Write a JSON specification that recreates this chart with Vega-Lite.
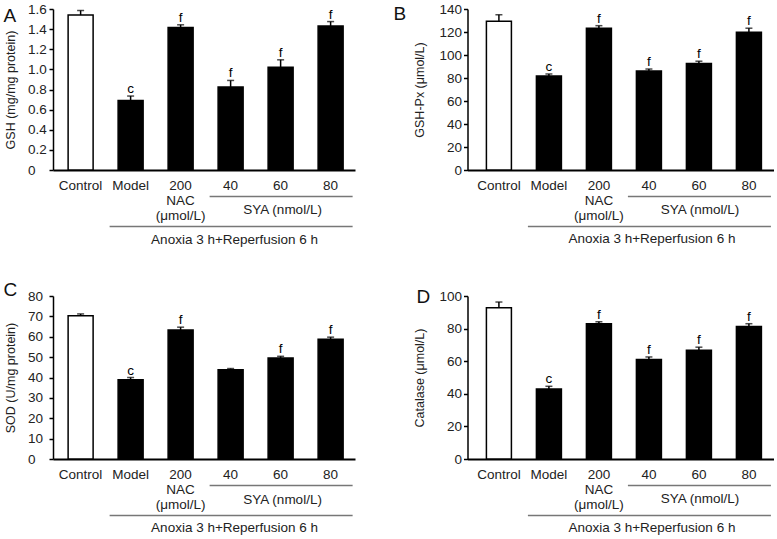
{
  "$schema": "https://vega.github.io/schema/vega-lite/v6.json",
  "padding": {"left": 3, "top": -4, "right": 3, "bottom": 0},
  "datasets": {
    "bars": [
      {"panel": "A", "group": "Control", "mean": 1.54, "upper": 1.585, "sig": ""},
      {"panel": "A", "group": "Model", "mean": 0.69, "upper": 0.735, "sig": "c"},
      {"panel": "A", "group": "200", "mean": 1.415, "upper": 1.443, "sig": "f"},
      {"panel": "A", "group": "40", "mean": 0.825, "upper": 0.89, "sig": "f"},
      {"panel": "A", "group": "60", "mean": 1.02, "upper": 1.095, "sig": "f"},
      {"panel": "A", "group": "80", "mean": 1.43, "upper": 1.475, "sig": "f"},
      {"panel": "B", "group": "Control", "mean": 129.3, "upper": 135, "sig": ""},
      {"panel": "B", "group": "Model", "mean": 81.7, "upper": 83.5, "sig": "c"},
      {"panel": "B", "group": "200", "mean": 123.3, "upper": 125.5, "sig": "f"},
      {"panel": "B", "group": "40", "mean": 86.1, "upper": 87.8, "sig": "f"},
      {"panel": "B", "group": "60", "mean": 92.6, "upper": 94.6, "sig": "f"},
      {"panel": "B", "group": "80", "mean": 119.8, "upper": 123.3, "sig": "f"},
      {"panel": "C", "group": "Control", "mean": 70.3, "upper": 71.2, "sig": ""},
      {"panel": "C", "group": "Model", "mean": 38.9, "upper": 40.0, "sig": "c"},
      {"panel": "C", "group": "200", "mean": 63.3, "upper": 64.7, "sig": "f"},
      {"panel": "C", "group": "40", "mean": 43.8, "upper": 44.4, "sig": ""},
      {"panel": "C", "group": "60", "mean": 49.6, "upper": 50.4, "sig": "f"},
      {"panel": "C", "group": "80", "mean": 58.8, "upper": 59.8, "sig": "f"},
      {"panel": "D", "group": "Control", "mean": 92.8, "upper": 96.3, "sig": ""},
      {"panel": "D", "group": "Model", "mean": 42.9, "upper": 44.6, "sig": "c"},
      {"panel": "D", "group": "200", "mean": 83.0, "upper": 84.2, "sig": "f"},
      {"panel": "D", "group": "40", "mean": 61.0, "upper": 62.6, "sig": "f"},
      {"panel": "D", "group": "60", "mean": 66.7, "upper": 68.6, "sig": "f"},
      {"panel": "D", "group": "80", "mean": 81.3, "upper": 83.0, "sig": "f"}
    ]
  },
  "columns": 2,
  "spacing": {"row": 126, "column": 112.5},
  "bounds": "flush",
  "align": "each",
  "config": {
    "view": {"stroke": null},
    "font": "Liberation Sans",
    "axis": {"domainColor": "black", "tickColor": "black", "labelColor": "#222", "titleColor": "#222", "labelFontSize": 13.5, "titleFontSize": 12.5, "titleFontWeight": "normal", "grid": false, "labelOverlap": false},
    "axisX": {"ticks": false, "domainWidth": 2, "labelPadding": 8.5, "labelAngle": 0, "labelLineHeight": 15},
    "axisY": {"tickSize": 4, "domainWidth": 1.5, "tickWidth": 1.5, "titleFontSize": 12.5, "labelOverlap": false, "tickCount": 20},
    "title": {"anchor": "start", "frame": "group", "fontSize": 19, "fontWeight": "normal", "baseline": "alphabetic", "offset": 0, "color": "#111"},
    "text": {"fontSize": 13.5, "color": "#222"}
  },
  "concat": [
    {
      "width": 302, "height": 161,
      "title": {"text": "A", "dx": -49.5, "dy": 33.75},
      "layer": [
        {
          "data": {"name": "bars"},
          "transform": [{"filter": "datum.panel == 'A'"}],
          "encoding": {
            "x": {"field": "group", "type": "nominal", "title": null,
              "scale": {"domain": ["Control", "Model", "200", "40", "60", "80"], "paddingInner": 0.5, "paddingOuter": 0.27, "align": 0.56},
              "axis": {"labelExpr": "datum.value == '200' ? ['200', 'NAC', '(μmol/L)'] : datum.value"}}
          },
          "layer": [
            {"mark": {"type": "bar", "stroke": "black", "strokeWidth": 1.5},
             "encoding": {
               "y": {"field": "mean", "type": "quantitative", "scale": {"domain": [0, 1.6], "nice": false},
                 "axis": {"title": "GSH (mg/mg protein)", "values": [0, 0.2, 0.4, 0.6, 0.8, 1.0, 1.2, 1.4, 1.6], "tickCount": 20, "labelOverlap": false, "labelExpr": "datum.value == 0 ? '0' : format(datum.value, '.1f')", "labelAlign": "left", "labelPadding": 21.5, "titlePadding": 10}},
               "fill": {"condition": {"test": "datum.group == 'Control'", "value": "white"}, "value": "black"}}},
            {"mark": {"type": "rule", "strokeWidth": 1.5, "color": "black"},
             "encoding": {"y": {"field": "mean", "type": "quantitative"}, "y2": {"field": "upper"}}},
            {"mark": {"type": "tick", "thickness": 1.5, "size": 7, "color": "black"},
             "encoding": {"y": {"field": "upper", "type": "quantitative"}}},
            {"mark": {"type": "text", "baseline": "alphabetic", "dy": -3, "color": "black"},
             "encoding": {"y": {"field": "upper", "type": "quantitative"}, "text": {"field": "sig"}}}
          ]
        },
        {"data": {"values": [{}]}, "mark": {"type": "rule", "color": "#777", "strokeWidth": 1.5, "xOffset": -21, "x2Offset": 22},
         "encoding": {"x": {"datum": "40", "type": "nominal"}, "x2": {"datum": "80"}, "y": {"datum": -0.263, "type": "quantitative"}}},
        {"data": {"values": [{}]}, "mark": {"type": "rule", "color": "#777", "strokeWidth": 1.5, "xOffset": -21, "x2Offset": 22},
         "encoding": {"x": {"datum": "Model", "type": "nominal"}, "x2": {"datum": "80"}, "y": {"datum": -0.561, "type": "quantitative"}}},
        {"data": {"values": [{}]}, "mark": {"type": "text", "baseline": "middle", "dx": 2},
         "encoding": {"x": {"datum": "60", "type": "nominal"}, "y": {"datum": -0.402, "type": "quantitative"}, "text": {"value": "SYA (nmol/L)"}}},
        {"data": {"values": [{}]}, "mark": {"type": "text", "baseline": "middle", "dx": 4},
         "encoding": {"x": {"datum": "40", "type": "nominal"}, "y": {"datum": -0.691, "type": "quantitative"}, "text": {"value": "Anoxia 3 h+Reperfusion 6 h"}}}
      ]
    },
    {
      "width": 306, "height": 161,
      "title": {"text": "B", "dx": -74, "dy": 26.75},
      "layer": [
        {
          "data": {"name": "bars"},
          "transform": [{"filter": "datum.panel == 'B'"}],
          "encoding": {
            "x": {"field": "group", "type": "nominal", "title": null,
              "scale": {"domain": ["Control", "Model", "200", "40", "60", "80"], "paddingInner": 0.5, "paddingOuter": 0.31, "align": 0.61},
              "axis": {"labelExpr": "datum.value == '200' ? ['200', 'NAC', '(μmol/L)'] : datum.value"}}
          },
          "layer": [
            {"mark": {"type": "bar", "stroke": "black", "strokeWidth": 1.5},
             "encoding": {
               "y": {"field": "mean", "type": "quantitative", "scale": {"domain": [0, 140], "nice": false},
                 "axis": {"title": "GSH-Px (μmol/L)", "values": [0, 20, 40, 60, 80, 100, 120, 140], "tickCount": 20, "labelOverlap": false, "labelPadding": 2, "titlePadding": 12}},
               "fill": {"condition": {"test": "datum.group == 'Control'", "value": "white"}, "value": "black"}}},
            {"mark": {"type": "rule", "strokeWidth": 1.5, "color": "black"},
             "encoding": {"y": {"field": "mean", "type": "quantitative"}, "y2": {"field": "upper"}}},
            {"mark": {"type": "tick", "thickness": 1.5, "size": 7, "color": "black"},
             "encoding": {"y": {"field": "upper", "type": "quantitative"}}},
            {"mark": {"type": "text", "baseline": "alphabetic", "dy": -3, "color": "black"},
             "encoding": {"y": {"field": "upper", "type": "quantitative"}, "text": {"field": "sig"}}}
          ]
        },
        {"data": {"values": [{}]}, "mark": {"type": "rule", "color": "#777", "strokeWidth": 1.5, "xOffset": -21, "x2Offset": 22},
         "encoding": {"x": {"datum": "40", "type": "nominal"}, "x2": {"datum": "80"}, "y": {"datum": -23.0, "type": "quantitative"}}},
        {"data": {"values": [{}]}, "mark": {"type": "rule", "color": "#777", "strokeWidth": 1.5, "xOffset": -21, "x2Offset": 22},
         "encoding": {"x": {"datum": "Model", "type": "nominal"}, "x2": {"datum": "80"}, "y": {"datum": -49.1, "type": "quantitative"}}},
        {"data": {"values": [{}]}, "mark": {"type": "text", "baseline": "middle", "dx": 1},
         "encoding": {"x": {"datum": "60", "type": "nominal"}, "y": {"datum": -35.2, "type": "quantitative"}, "text": {"value": "SYA (nmol/L)"}}},
        {"data": {"values": [{}]}, "mark": {"type": "text", "baseline": "middle", "dx": 3},
         "encoding": {"x": {"datum": "40", "type": "nominal"}, "y": {"datum": -60.4, "type": "quantitative"}, "text": {"value": "Anoxia 3 h+Reperfusion 6 h"}}}
      ]
    },
    {
      "width": 302, "height": 163,
      "title": {"text": "C", "dx": -49.5, "dy": 14.75},
      "layer": [
        {
          "data": {"name": "bars"},
          "transform": [{"filter": "datum.panel == 'C'"}],
          "encoding": {
            "x": {"field": "group", "type": "nominal", "title": null,
              "scale": {"domain": ["Control", "Model", "200", "40", "60", "80"], "paddingInner": 0.5, "paddingOuter": 0.27, "align": 0.56},
              "axis": {"labelExpr": "datum.value == '200' ? ['200', 'NAC', '(μmol/L)'] : datum.value"}}
          },
          "layer": [
            {"mark": {"type": "bar", "stroke": "black", "strokeWidth": 1.5},
             "encoding": {
               "y": {"field": "mean", "type": "quantitative", "scale": {"domain": [0, 80], "nice": false},
                 "axis": {"title": "SOD (U/mg protein)", "values": [0, 10, 20, 30, 40, 50, 60, 70, 80], "tickCount": 20, "labelOverlap": false, "labelAlign": "left", "labelPadding": 21.5, "titlePadding": 10}},
               "fill": {"condition": {"test": "datum.group == 'Control'", "value": "white"}, "value": "black"}}},
            {"mark": {"type": "rule", "strokeWidth": 1.5, "color": "black"},
             "encoding": {"y": {"field": "mean", "type": "quantitative"}, "y2": {"field": "upper"}}},
            {"mark": {"type": "tick", "thickness": 1.5, "size": 7, "color": "black"},
             "encoding": {"y": {"field": "upper", "type": "quantitative"}}},
            {"mark": {"type": "text", "baseline": "alphabetic", "dy": -3, "color": "black"},
             "encoding": {"y": {"field": "upper", "type": "quantitative"}, "text": {"field": "sig"}}}
          ]
        },
        {"data": {"values": [{}]}, "mark": {"type": "rule", "color": "#777", "strokeWidth": 1.5, "xOffset": -21, "x2Offset": 22},
         "encoding": {"x": {"datum": "40", "type": "nominal"}, "x2": {"datum": "80"}, "y": {"datum": -13.0, "type": "quantitative"}}},
        {"data": {"values": [{}]}, "mark": {"type": "rule", "color": "#777", "strokeWidth": 1.5, "xOffset": -21, "x2Offset": 22},
         "encoding": {"x": {"datum": "Model", "type": "nominal"}, "x2": {"datum": "80"}, "y": {"datum": -27.7, "type": "quantitative"}}},
        {"data": {"values": [{}]}, "mark": {"type": "text", "baseline": "middle", "dx": 2},
         "encoding": {"x": {"datum": "60", "type": "nominal"}, "y": {"datum": -19.9, "type": "quantitative"}, "text": {"value": "SYA (nmol/L)"}}},
        {"data": {"values": [{}]}, "mark": {"type": "text", "baseline": "middle", "dx": 4},
         "encoding": {"x": {"datum": "40", "type": "nominal"}, "y": {"datum": -34.1, "type": "quantitative"}, "text": {"value": "Anoxia 3 h+Reperfusion 6 h"}}}
      ]
    },
    {
      "width": 306, "height": 163,
      "title": {"text": "D", "dx": -51, "dy": 22.75},
      "layer": [
        {
          "data": {"name": "bars"},
          "transform": [{"filter": "datum.panel == 'D'"}],
          "encoding": {
            "x": {"field": "group", "type": "nominal", "title": null,
              "scale": {"domain": ["Control", "Model", "200", "40", "60", "80"], "paddingInner": 0.5, "paddingOuter": 0.31, "align": 0.61},
              "axis": {"labelExpr": "datum.value == '200' ? ['200', 'NAC', '(μmol/L)'] : datum.value"}}
          },
          "layer": [
            {"mark": {"type": "bar", "stroke": "black", "strokeWidth": 1.5},
             "encoding": {
               "y": {"field": "mean", "type": "quantitative", "scale": {"domain": [0, 100], "nice": false},
                 "axis": {"title": "Catalase (μmol/L)", "values": [0, 20, 40, 60, 80, 100], "tickCount": 20, "labelOverlap": false, "labelPadding": 2, "titlePadding": 12}},
               "fill": {"condition": {"test": "datum.group == 'Control'", "value": "white"}, "value": "black"}}},
            {"mark": {"type": "rule", "strokeWidth": 1.5, "color": "black"},
             "encoding": {"y": {"field": "mean", "type": "quantitative"}, "y2": {"field": "upper"}}},
            {"mark": {"type": "tick", "thickness": 1.5, "size": 7, "color": "black"},
             "encoding": {"y": {"field": "upper", "type": "quantitative"}}},
            {"mark": {"type": "text", "baseline": "alphabetic", "dy": -3, "color": "black"},
             "encoding": {"y": {"field": "upper", "type": "quantitative"}, "text": {"field": "sig"}}}
          ]
        },
        {"data": {"values": [{}]}, "mark": {"type": "rule", "color": "#777", "strokeWidth": 1.5, "xOffset": -21, "x2Offset": 22},
         "encoding": {"x": {"datum": "40", "type": "nominal"}, "x2": {"datum": "80"}, "y": {"datum": -16.3, "type": "quantitative"}}},
        {"data": {"values": [{}]}, "mark": {"type": "rule", "color": "#777", "strokeWidth": 1.5, "xOffset": -21, "x2Offset": 22},
         "encoding": {"x": {"datum": "Model", "type": "nominal"}, "x2": {"datum": "80"}, "y": {"datum": -34.7, "type": "quantitative"}}},
        {"data": {"values": [{}]}, "mark": {"type": "text", "baseline": "middle", "dx": 1},
         "encoding": {"x": {"datum": "60", "type": "nominal"}, "y": {"datum": -24.8, "type": "quantitative"}, "text": {"value": "SYA (nmol/L)"}}},
        {"data": {"values": [{}]}, "mark": {"type": "text", "baseline": "middle", "dx": 3},
         "encoding": {"x": {"datum": "40", "type": "nominal"}, "y": {"datum": -42.6, "type": "quantitative"}, "text": {"value": "Anoxia 3 h+Reperfusion 6 h"}}}
      ]
    }
  ]
}
